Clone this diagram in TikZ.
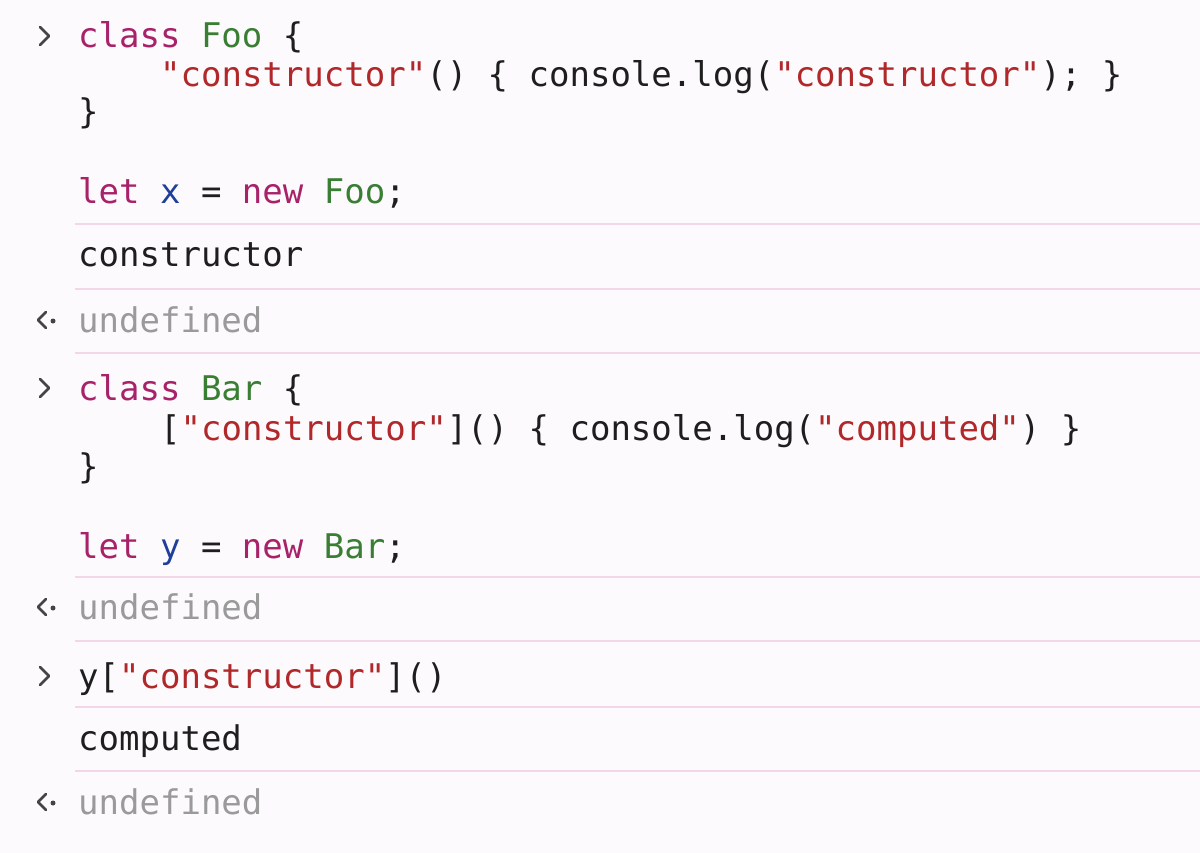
\documentclass[tikz,border=0pt]{standalone}
\usepackage{fontspec}
\setmonofont{DejaVu Sans Mono}
\definecolor{bg}{HTML}{FCFAFD}
\definecolor{sep}{HTML}{F3D7E8}
\definecolor{kw}{HTML}{A8226A}
\definecolor{cls}{HTML}{3A7E34}
\definecolor{str}{HTML}{B0282A}
\definecolor{var}{HTML}{1F3F9A}
\definecolor{gr}{HTML}{9A9A9A}
\definecolor{tx}{HTML}{1E1E1E}
\definecolor{pr}{HTML}{444444}
\newcommand{\K}[1]{\textcolor{kw}{#1}}
\newcommand{\C}[1]{\textcolor{cls}{#1}}
\newcommand{\Sx}[1]{\textcolor{str}{#1}}
\newcommand{\V}[1]{\textcolor{var}{#1}}
\begin{document}
\begin{tikzpicture}[x=1pt,y=-1pt,
  code/.style={anchor=base west,inner sep=0pt,font=\fontsize{34}{40}\ttfamily,text=tx},
  sepline/.style={draw=sep,line width=2pt},
  inchev/.style={draw=pr,line width=2.8pt,line cap=round,line join=round}]
\fill[bg] (0,0) rectangle (1200,853);
\useasboundingbox (0,0) rectangle (1200,853);
% separators
\foreach \yy in {224,289,353,577,641,707,771}{\draw[sepline] (75,\yy) -- (1200,\yy);}
% input chevrons
\foreach \yy in {36,388,676}{\draw[inchev] (40,\yy-9) -- (49,\yy) -- (40,\yy+9);}
% result chevrons
\foreach \yy in {320,607,802}{\draw[inchev] (46,\yy-8) -- (38,\yy) -- (46,\yy+8); \fill[pr] (53,\yy+1) circle (2.5);}
% block 1
\node[code] (l1) at (78,48) {\K{class} \C{Foo} \{};
\node[code] (l2) at (160,87) {\Sx{"constructor"}() \{ console.log(\Sx{"constructor"}); \}};
\node[code] (l3) at (78,124) {\}};
\node[code] (l4) at (78,204) {\K{let} \V{x} = \K{new} \C{Foo};};
\node[code] (o1) at (78,267) {constructor};
\node[code,text=gr] (r1) at (78,332) {undefined};
% block 2
\node[code] (m1) at (78,400) {\K{class} \C{Bar} \{};
\node[code] (m2) at (160,440) {[\Sx{"constructor"}]() \{ console.log(\Sx{"computed"}) \}};
\node[code] (m3) at (78,478) {\}};
\node[code] (m4) at (78,558) {\K{let} \V{y} = \K{new} \C{Bar};};
\node[code,text=gr] (r2) at (78,619) {undefined};
% block 3
\node[code] (n1) at (78,688) {y[\Sx{"constructor"}]()};
\node[code] (o2) at (78,750) {computed};
\node[code,text=gr] (r3) at (78,814) {undefined};
\end{tikzpicture}
\end{document}
